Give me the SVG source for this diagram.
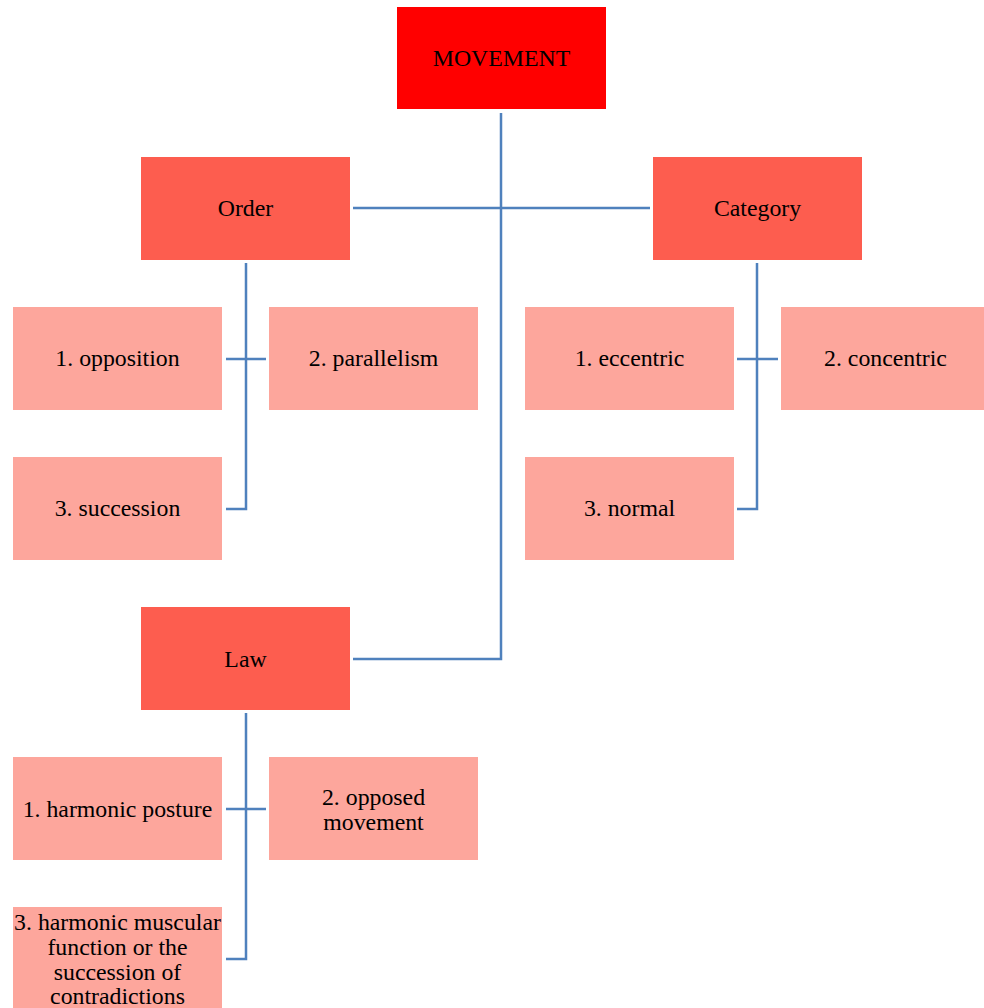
<svg xmlns="http://www.w3.org/2000/svg" width="984" height="1008" viewBox="0 0 984 1008">
<style>
.t{font-family:"Liberation Serif","Times New Roman",serif;font-size:23.8px;fill:#000;text-anchor:middle;dominant-baseline:central}
.root{fill:#FF0000}
.mid{fill:#FD5D4F}
.leaf{fill:#FDA69C}
.c{fill:none;stroke:#4F81BD;stroke-width:2.5}
</style>
<rect width="984" height="1008" fill="#fff"/>
<g id="connectors">
<path class="c" d="M501,113 V659 H353"/>
<path class="c" d="M353,208 H650"/>
<path class="c" d="M246,263 V509 H226"/>
<path class="c" d="M226,359 H266"/>
<path class="c" d="M757,263 V509 H737"/>
<path class="c" d="M737,359 H778"/>
<path class="c" d="M246,713 V959 H226"/>
<path class="c" d="M226,809 H266"/>
</g>
<g id="movement"><rect class="root" x="397" y="7" width="209" height="102"/><text class="t" x="501.5" y="58">MOVEMENT</text></g>
<g id="order"><rect class="mid" x="141" y="157" width="209" height="103"/><text class="t" x="245.5" y="208">Order</text></g>
<g id="category"><rect class="mid" x="653" y="157" width="209" height="103"/><text class="t" x="757.5" y="208">Category</text></g>
<g id="law"><rect class="mid" x="141" y="607" width="209" height="103"/><text class="t" x="245.5" y="659">Law</text></g>
<g id="opposition"><rect class="leaf" x="13" y="307" width="209" height="103"/><text class="t" x="117.5" y="358">1. opposition</text></g>
<g id="parallelism"><rect class="leaf" x="269" y="307" width="209" height="103"/><text class="t" x="373.5" y="358">2. parallelism</text></g>
<g id="succession"><rect class="leaf" x="13" y="457" width="209" height="103"/><text class="t" x="117.5" y="508">3. succession</text></g>
<g id="eccentric"><rect class="leaf" x="525" y="307" width="209" height="103"/><text class="t" x="629.5" y="358">1. eccentric</text></g>
<g id="concentric"><rect class="leaf" x="781" y="307" width="203" height="103"/><text class="t" x="885.5" y="358">2. concentric</text></g>
<g id="normal"><rect class="leaf" x="525" y="457" width="209" height="103"/><text class="t" x="629.5" y="508">3. normal</text></g>
<g id="harmonic-posture"><rect class="leaf" x="13" y="757" width="209" height="103"/><text class="t" x="117.5" y="809">1. harmonic posture</text></g>
<g id="opposed-movement"><rect class="leaf" x="269" y="757" width="209" height="103"/><text class="t" x="373.5" y="797">2. opposed</text><text class="t" x="373.5" y="822">movement</text></g>
<g id="harmonic-muscular"><rect class="leaf" x="13" y="907" width="209" height="103"/><text class="t" x="117.5" y="922">3. harmonic muscular</text><text class="t" x="117.5" y="947">function or the</text><text class="t" x="117.5" y="972">succession of</text><text class="t" x="117.5" y="996">contradictions</text></g>
</svg>
